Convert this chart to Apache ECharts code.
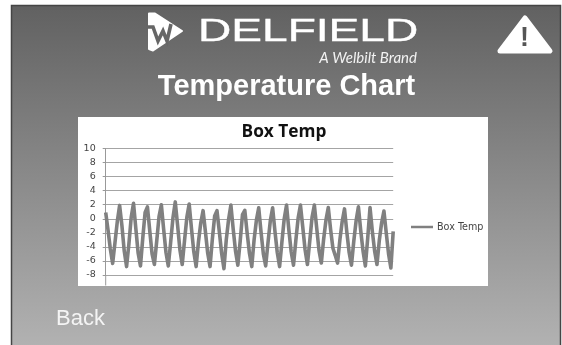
<!DOCTYPE html>
<html><head><meta charset="utf-8">
<style>html,body{margin:0;padding:0;background:#fff}#c{width:562px;height:345px}</style>
<script src="https://cdn.jsdelivr.net/npm/echarts@6/dist/echarts.min.js"></script>
</head><body><div id="c"></div>
<script>
const chartTitle = "Box Temp";
const seriesName = "Box Temp";
const yMin = -8, yMax = 10, yStep = 2;
const boxTemp = [
 0.9,-1.6,-4.3,-6.35,-3.4,-0.4,
 1.9,-1.0,-4.6,-6.8,-3.6,0.2,
 2.2,-1.4,-4.9,-6.7,-2.7,0.9,
 1.7,-1.7,-5.0,-6.5,-3.2,0.3,
 2.0,-1.5,-4.8,-6.7,-3.4,0.1,
 2.4,-0.9,-4.4,-6.5,-3.1,0.2,
 2.1,-1.4,-4.7,-6.8,-3.3,-0.6,
 1.15,-1.8,-4.9,-6.8,-2.9,0.4,
 1.15,-1.8,-4.9,-7.1,-3.0,-0.1,
 1.95,-1.5,-4.6,-6.6,-3.2,0.6,
 1.2,-2.0,-4.9,-6.8,-3.0,-0.2,
 1.55,-1.9,-5.0,-6.7,-3.4,-0.3,
 1.55,-1.8,-4.8,-6.8,-3.3,0.0,
 1.95,-1.6,-4.7,-6.6,-3.1,0.1,
 1.95,-1.2,-4.4,-6.5,-3.2,0.2,
 1.95,-1.3,-4.5,-6.3,-2.9,-0.2,
 1.6,-1.5,-4.2,-5.2,-6.3,-3.0,-0.4,
 1.4,-1.9,-4.8,-6.6,-3.2,-0.3,
 1.7,-1.7,-4.6,-6.7,-2.8,
 1.6,-1.8,-4.6,-6.5,-3.1,-0.6,
 1.1,-2.0,-5.0,-7.0,-1.8
];
const samples = boxTemp.map((_, i) => String(i));

const chart = echarts.init(document.getElementById('c'), null, {renderer:'canvas'});
chart.setOption({
  animation:false,
  backgroundColor:'#ffffff',
  title:{text:chartTitle,left:279,top:118,textAlign:'center',
    textStyle:{fontFamily:'Open Sans',fontWeight:'bold',fontSize:17.3,color:'#111',lineHeight:18}},
  legend:{show:true,left:411,top:222,itemWidth:22,itemHeight:10,itemGap:4,icon:'rect',
    data:[{name:seriesName,icon:'path://M0,4 H22 V6.5 H0 Z'}],
    textStyle:{fontFamily:'DejaVu Sans',fontSize:9.6,color:'#444',padding:[0,0,0,-1]},padding:0},
  grid:{left:105.7,top:148.5,width:287.5,height:126.5,containLabel:false},
  xAxis:{type:'category',data:samples,boundaryGap:false,show:false},
  yAxis:{type:'value',min:yMin,max:yMax,interval:yStep,
    axisLine:{show:true,lineStyle:{color:'#999',width:1}},
    axisTick:{show:true,length:3,lineStyle:{color:'#999'}},
    axisLabel:{fontFamily:'DejaVu Sans',fontSize:9.5,color:'#444',margin:10},
    splitLine:{show:true,lineStyle:{color:'#a4a4a4',width:1}}},
  series:[{name:seriesName,type:'line',data:boxTemp,symbol:'none',smooth:false,z:3,
    lineStyle:{color:'#808080',width:3.6,join:'round'},itemStyle:{color:'#808080'}}],
  graphic:{elements:[
    {type:'rect',z:-20,silent:true,shape:{x:11.5,y:5.5,width:549,height:345},
      style:{fill:new echarts.graphic.LinearGradient(0,0,0,1,[{offset:0,color:'#616161'},{offset:1,color:'#b3b3b3'}]),stroke:'#454545',lineWidth:1.5}},
    {type:'rect',z:-19,silent:true,shape:{x:78,y:117,width:410,height:169},style:{fill:'#ffffff'}},
    {type:'line',z:1,silent:true,shape:{x1:105.7,y1:275,x2:105.7,y2:285.5},style:{stroke:'#999',lineWidth:1}},
    {type:'polygon',z:5,silent:true,shape:{points:[[149,13.5],[155,13.5],[182,31],[153,50.5],[149,49]]},
      style:{fill:'#fff',stroke:'#fff',lineWidth:2,lineJoin:'round'}},
    {type:'polyline',z:6,silent:true,shape:{points:[[146,27],[153,27],[158,41],[163,31],[167,41],[171,24]]},
      style:{fill:'none',stroke:'#666',lineWidth:3.6,lineJoin:'miter'}},
    {type:'text',z:5,silent:true,x:198,y:32,scaleX:1.44,style:{text:'DELFIELD',fontFamily:'Liberation Sans',fontSize:32,fill:'#fff',stroke:'#fff',lineWidth:0.4,textAlign:'left',textVerticalAlign:'middle'}},
    {type:'text',z:5,silent:true,x:417,y:58,style:{text:'A Welbilt Brand',fontFamily:'Lato',fontStyle:'italic',fontSize:15,fill:'#f2f2f2',textAlign:'right',textVerticalAlign:'middle'}},
    {type:'text',z:5,silent:true,x:286.5,y:87,style:{text:'Temperature Chart',fontFamily:'Liberation Sans',fontWeight:'bold',fontSize:29,fill:'#fff',textAlign:'center',textVerticalAlign:'middle'}},
    {type:'text',z:5,silent:true,x:56,y:319,style:{text:'Back',fontFamily:'Liberation Sans',fontSize:22,fill:'#f4f4f4',textAlign:'left',textVerticalAlign:'middle'}},
    {type:'polygon',z:5,silent:true,shape:{points:[[525,18],[550,51],[500,51]]},
      style:{fill:'#fff',stroke:'#fff',lineWidth:5,lineJoin:'round'}},
    {type:'text',z:6,silent:true,x:524.5,y:39,style:{text:'!',fontFamily:'Liberation Sans',fontWeight:'bold',fontSize:27,fill:'#555',textAlign:'center',textVerticalAlign:'middle'}}
  ]}
});
</script></body></html>
